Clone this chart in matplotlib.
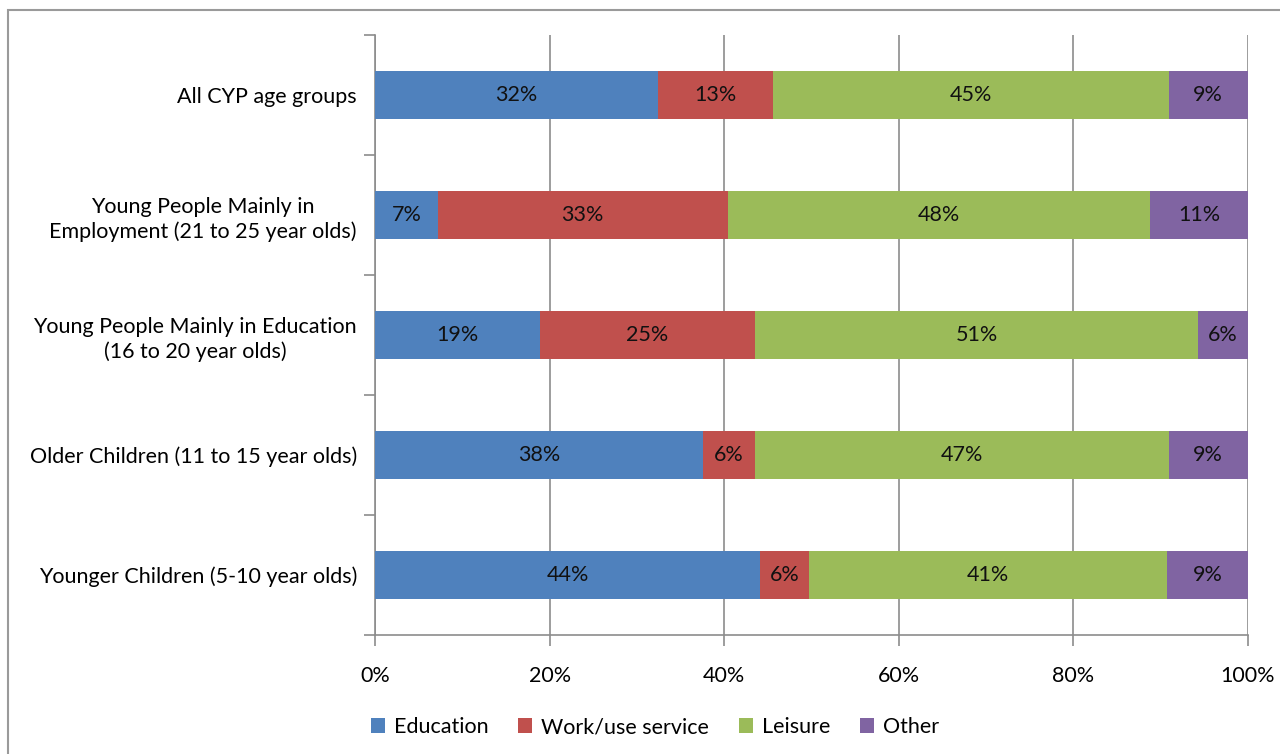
import numpy as np
import matplotlib.pyplot as plt
from matplotlib.patches import Rectangle

plt.rcParams['font.family'] = ['Lato', 'DejaVu Sans']
FS = 15.5

groups = [
    "All CYP age groups",
    "Young People Mainly in\nEmployment (21 to 25 year olds)",
    "Young People Mainly in Education\n(16 to 20 year olds)",
    "Older Children (11 to 15 year olds)",
    "Younger Children (5-10 year olds)",
]
series = ["Education", "Work/use service", "Leisure", "Other"]
education = [32.4, 7.2, 18.9, 37.6, 44.1]
work = [13.2, 33.2, 24.6, 5.9, 5.6]
leisure = [45.3, 48.4, 50.8, 47.4, 41.0]
other = [9.1, 11.2, 5.7, 9.1, 9.3]
colors = ["#4F81BD", "#C0504D", "#9BBB59", "#8064A2"]
xticks = [0, 20, 40, 60, 80, 100]

fig = plt.figure(figsize=(12.8, 7.54), dpi=100)
ax = fig.add_axes([375 / 1280, 1 - 635 / 754, 873 / 1280, 600 / 754])

# outer chart-area frame
fig.patches.append(Rectangle((8 / 1280, -0.1), 1.2, (754 - 10) / 754 + 0.1,
                             transform=fig.transFigure, fill=False,
                             edgecolor="#9a9a9a", lw=1.5))

y = np.arange(len(groups))
left = np.zeros(len(groups))
for name, vals, c in zip(series, [education, work, leisure, other], colors):
    vals = np.array(vals)
    ax.barh(y, vals, left=left, height=0.4, color=c, label=name, zorder=3)
    for yi, l, v in zip(y, left, vals):
        ax.text(l + v / 2, yi, f"{round(v):.0f}%", ha="center", va="center",
                fontsize=FS, color="#111111", zorder=4)
    left += vals

ax.set_xlim(0, 100)
ax.set_ylim(len(groups) - 0.5, -0.5)
ax.set_xticks(xticks)
ax.set_xticklabels([f"{t}%" for t in xticks], fontsize=FS)
ax.xaxis.grid(True, color="#8c8c8c", lw=1.2, zorder=0)

# category labels sit between boundary tick marks
ax.set_yticks(y)
ax.set_yticklabels(groups, fontsize=FS, ha="right", multialignment="center",
                   linespacing=1.3)
ax.tick_params(axis="y", length=0, pad=13)
ax.set_yticks(np.arange(-0.5, len(groups)), minor=True)
ax.tick_params(axis="y", which="minor", length=8, color="#8c8c8c", width=1.2)
ax.tick_params(axis="x", length=8, color="#8c8c8c", width=1.2, pad=14)

for s in ["top", "right"]:
    ax.spines[s].set_visible(False)
for s in ["left", "bottom"]:
    ax.spines[s].set_color("#8c8c8c")
    ax.spines[s].set_linewidth(1.2)

fig.legend(loc="center", bbox_to_anchor=(655 / 1280, 1 - 727 / 754), ncol=4,
           frameon=False, fontsize=FS, handlelength=0.65, handleheight=0.65,
           handletextpad=0.4, columnspacing=1.4)

fig.savefig("out.png", dpi=100)
